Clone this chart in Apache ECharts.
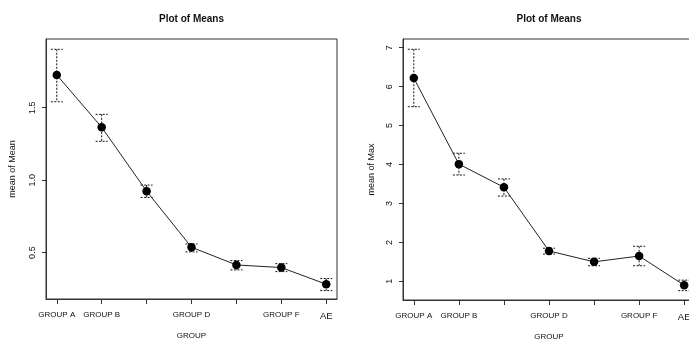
<!DOCTYPE html>
<html>
<head>
<meta charset="utf-8">
<script src="https://cdn.jsdelivr.net/npm/echarts@6/dist/echarts.min.js"></script>
<style>
  html, body { margin: 0; padding: 0; background: #fff; }
  #main { width: 689px; height: 340px; }
</style>
</head>
<body>
<div id="main"></div>
<script>
// group positions and tick labels (R drops the overlapping ones)
const groupPos = [1, 2, 3, 4, 5, 6, 7];
const groupLabels = ['GROUP A', 'GROUP B', '', 'GROUP D', '', 'GROUP F', 'AE'];

// left panel: mean of Mean with interval limits
const meanOfMean = [1.726, 1.365, 0.924, 0.537, 0.415, 0.397, 0.282];
const meanLower = [1.541, 1.268, 0.881, 0.505, 0.381, 0.369, 0.238];
const meanUpper = [1.903, 1.454, 0.966, 0.560, 0.445, 0.424, 0.321];

// right panel: mean of Max with interval limits
const meanOfMax = [6.22, 4.01, 3.415, 1.78, 1.50, 1.65, 0.90];
const maxLower = [5.485, 3.73, 3.19, 1.70, 1.40, 1.40, 0.76];
const maxUpper = [6.96, 4.29, 3.63, 1.85, 1.59, 1.90, 1.03];

const leftTicks = [0.5, 1.0, 1.5];
const rightTicks = [1, 2, 3, 4, 5, 6, 7];

const FONT = 'Liberation Sans';
const INK = '#111';

const chart = echarts.init(document.getElementById('main'), null, { renderer: 'canvas' });

function xAxisFor(gridIndex) {
  return {
    type: 'value', gridIndex: gridIndex, min: 0.76, max: 7.24,
    splitLine: { show: false },
    axisLine: { show: true, onZero: false, lineStyle: { color: '#333', width: 1 } },
    axisTick: { customValues: groupPos, length: 5, lineStyle: { color: '#333' } },
    axisLabel: {
      customValues: groupPos, margin: 12, fontSize: 8, color: INK, fontFamily: FONT,
      hideOverlap: false,
      formatter: function (v) {
        const s = groupLabels[Math.round(v) - 1];
        return s === 'AE' ? '{big|' + s + '}' : s;
      },
      rich: { big: { fontSize: 9.5, fontFamily: FONT, color: INK } }
    },
    name: 'GROUP', nameLocation: 'middle', nameGap: 33,
    nameTextStyle: { fontSize: 8, color: INK, fontFamily: FONT }
  };
}

function yAxisFor(gridIndex, min, max, ticks, name, gap, fmt) {
  return {
    type: 'value', gridIndex: gridIndex, min: min, max: max,
    splitLine: { show: false },
    axisLine: { show: true, lineStyle: { color: '#333', width: 1 } },
    axisTick: { customValues: ticks, length: 4, lineStyle: { color: '#333' } },
    axisLabel: {
      customValues: ticks, rotate: 90, margin: 9, fontSize: 9, color: INK, fontFamily: FONT,
      formatter: fmt
    },
    name: name, nameLocation: 'middle', nameGap: gap,
    nameTextStyle: { fontSize: 9, color: INK, fontFamily: FONT }
  };
}

function errorBars(idx, lower, upper) {
  return {
    type: 'custom', xAxisIndex: idx, yAxisIndex: idx, z: 2,
    encode: { x: 0, y: [1, 2] },
    data: groupPos.map(function (x, i) { return [x, lower[i], upper[i]]; }),
    renderItem: function (params, api) {
      const x = api.value(0);
      const top = api.coord([x, api.value(2)]);
      const bot = api.coord([x, api.value(1)]);
      const w = 6;
      const style = { stroke: '#111', lineWidth: 1, lineDash: [2, 1.5] };
      return {
        type: 'group',
        children: [
          { type: 'line', shape: { x1: top[0], y1: top[1], x2: bot[0], y2: bot[1] }, style: style },
          { type: 'line', shape: { x1: top[0] - w, y1: top[1], x2: top[0] + w, y2: top[1] }, style: style },
          { type: 'line', shape: { x1: bot[0] - w, y1: bot[1], x2: bot[0] + w, y2: bot[1] }, style: style }
        ]
      };
    }
  };
}

function meanLine(idx, values) {
  return {
    type: 'line', xAxisIndex: idx, yAxisIndex: idx, z: 3,
    data: groupPos.map(function (x, i) { return [x, values[i]]; }),
    symbol: 'circle', symbolSize: 8.5,
    itemStyle: { color: '#000' },
    lineStyle: { color: '#222', width: 1 }
  };
}

chart.setOption({
  animation: false,
  backgroundColor: '#fff',
  grid: [
    { left: 46, top: 39, width: 291, height: 260, show: true, borderColor: '#333', borderWidth: 1, outerBoundsMode: 'none', containLabel: false },
    { left: 403, top: 39, width: 292, height: 261, show: true, borderColor: '#333', borderWidth: 1, outerBoundsMode: 'none', containLabel: false }
  ],
  graphic: [
    { type: 'text', x: 191.5, y: 19, style: { text: 'Plot of Means', font: 'bold 10px ' + FONT, fill: INK, align: 'center', verticalAlign: 'middle' } },
    { type: 'text', x: 549, y: 19, style: { text: 'Plot of Means', font: 'bold 10px ' + FONT, fill: INK, align: 'center', verticalAlign: 'middle' } }
  ],
  xAxis: [xAxisFor(0), xAxisFor(1)],
  yAxis: [
    yAxisFor(0, 0.18, 1.974, leftTicks, 'mean of Mean', 29, function (v) { return v.toFixed(1); }),
    yAxisFor(1, 0.52, 7.224, rightTicks, 'mean of Max', 27, function (v) { return String(Math.round(v)); })
  ],
  series: [
    errorBars(0, meanLower, meanUpper),
    meanLine(0, meanOfMean),
    errorBars(1, maxLower, maxUpper),
    meanLine(1, meanOfMax)
  ]
});
</script>
</body>
</html>
